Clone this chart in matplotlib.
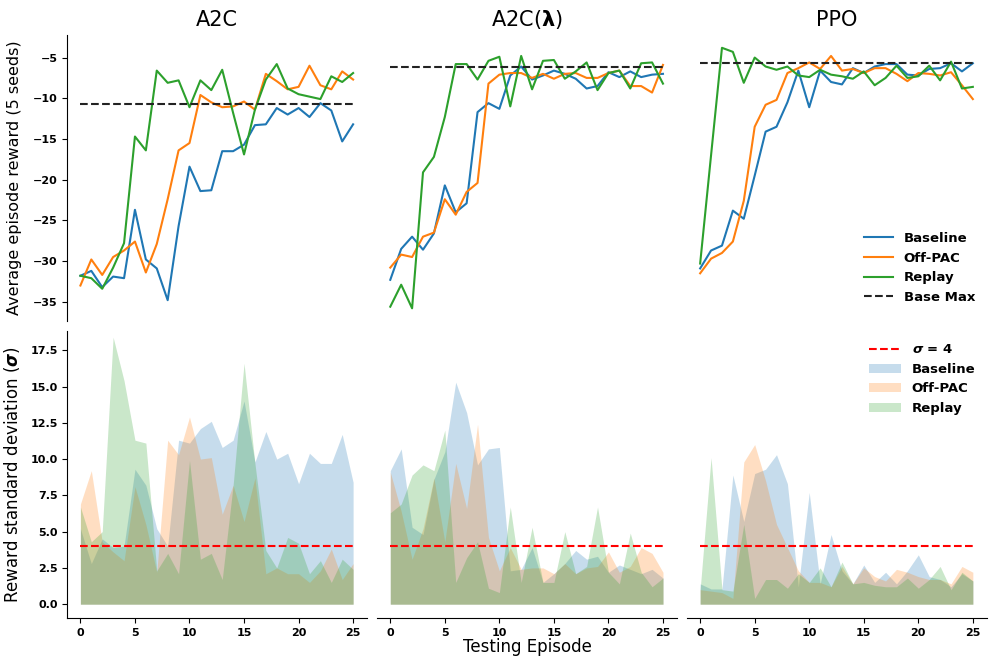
import matplotlib
matplotlib.use('Agg')
import matplotlib.pyplot as plt
import numpy as np

plt.rcParams['mathtext.fontset'] = 'custom'
plt.rcParams['mathtext.it'] = 'DejaVu Sans:italic:bold'
plt.rcParams['mathtext.bf'] = 'DejaVu Sans:bold'
plt.rcParams['mathtext.rm'] = 'DejaVu Sans'

episodes = np.arange(26)
algos = ['A2C', r'A2C($\mathbf{\lambda}$)', 'PPO']
methods = ['Baseline', 'Off-PAC', 'Replay']
colors = ['tab:blue', 'tab:orange', 'tab:green']

# average reward (5 seeds)
a2c_baseline = [-31.8, -31.2, -33.2, -31.9, -32.1, -23.7, -29.8, -30.9, -34.8, -25.7, -18.4, -21.4, -21.3,
                -16.5, -16.5, -15.7, -13.3, -13.2, -11.2, -12.0, -11.2, -12.3, -10.6, -11.5, -15.3, -13.2]
a2c_offpac = [-33.0, -29.8, -31.7, -29.5, -28.7, -27.6, -31.4, -27.9, -22.4, -16.4, -15.5, -9.6, -10.5,
              -11.1, -11.0, -10.4, -11.4, -7.0, -7.9, -8.9, -8.6, -6.0, -8.4, -8.9, -6.7, -7.7]
a2c_replay = [-31.8, -32.1, -33.4, -30.8, -27.8, -14.7, -16.4, -6.6, -8.1, -7.8, -11.1, -7.8, -9.0,
              -6.5, -11.8, -16.9, -11.4, -7.7, -5.8, -8.8, -9.5, -9.8, -10.1, -7.3, -8.0, -6.9]
lam_baseline = [-32.3, -28.5, -27.0, -28.6, -26.6, -20.7, -24.0, -22.9, -11.7, -10.6, -11.3, -7.2, -6.1,
                -7.7, -7.2, -6.6, -7.0, -7.6, -8.8, -8.5, -6.8, -7.4, -6.7, -7.4, -7.1, -7.0]
lam_offpac = [-30.8, -29.2, -29.5, -27.0, -26.5, -22.4, -24.3, -21.5, -20.4, -8.2, -7.1, -6.9, -6.9,
              -7.5, -7.0, -7.6, -7.0, -6.9, -7.5, -7.5, -6.9, -6.6, -8.5, -8.5, -9.3, -5.9]
lam_replay = [-35.6, -32.9, -35.8, -19.1, -17.2, -12.3, -5.8, -5.8, -7.7, -5.4, -4.9, -11.0, -4.8,
              -8.9, -5.4, -5.3, -7.6, -6.7, -5.6, -9.0, -6.9, -6.6, -8.8, -5.7, -5.6, -8.2]
ppo_baseline = [-30.9, -28.7, -28.1, -23.8, -24.8, -19.5, -14.1, -13.5, -10.5, -6.6, -11.1, -6.6, -8.0,
                -8.3, -6.3, -6.9, -6.1, -5.8, -5.8, -7.1, -7.2, -6.4, -6.3, -5.7, -6.7, -5.7]
ppo_offpac = [-31.5, -29.7, -29.0, -27.6, -22.6, -13.5, -10.8, -10.2, -6.9, -6.3, -5.6, -6.4, -4.8,
              -6.6, -6.4, -6.9, -6.3, -6.3, -7.0, -7.9, -6.9, -7.0, -7.2, -6.8, -8.4, -10.1]
ppo_replay = [-30.3, -17.0, -3.8, -4.3, -8.1, -5.0, -6.1, -6.5, -6.1, -7.2, -7.4, -6.5, -7.1,
              -7.3, -7.6, -6.7, -8.4, -7.5, -6.0, -7.5, -7.3, -6.0, -7.8, -5.5, -8.8, -8.6]
base_max = [-10.7, -6.1, -5.7]

# reward standard deviation
a2c_baseline_std = [5.2, 2.8, 4.5, 3.9, 4.0, 9.3, 8.2, 5.2, 4.0, 11.3, 11.1, 12.1, 12.6,
                    10.8, 11.3, 14.0, 9.8, 11.9, 10.0, 10.4, 8.3, 10.4, 9.7, 9.7, 11.7, 8.4]
a2c_offpac_std = [6.9, 9.2, 4.3, 3.6, 3.0, 8.1, 5.5, 2.2, 11.3, 10.3, 12.9, 10.0, 10.1,
                  6.2, 8.2, 5.7, 8.7, 2.1, 2.5, 2.1, 2.1, 1.5, 2.3, 3.8, 1.7, 2.8]
a2c_replay_std = [6.7, 4.3, 5.0, 18.4, 15.4, 11.3, 11.1, 2.3, 3.5, 2.1, 9.9, 3.1, 3.5,
                  1.7, 8.2, 16.6, 9.7, 3.7, 2.5, 4.6, 4.2, 2.1, 3.0, 1.5, 3.1, 2.4]
lam_baseline_std = [9.2, 10.7, 5.3, 4.8, 8.6, 10.5, 15.3, 13.2, 9.6, 10.7, 10.8, 2.3, 2.4,
                    3.9, 1.5, 2.1, 2.8, 3.7, 3.1, 3.3, 2.2, 2.7, 2.4, 2.1, 2.4, 1.8]
lam_offpac_std = [9.1, 6.4, 3.1, 5.2, 8.7, 4.3, 9.7, 6.6, 12.4, 4.6, 2.3, 3.9, 2.4,
                  2.5, 2.5, 2.1, 2.8, 2.1, 2.5, 2.6, 3.6, 2.2, 2.6, 3.9, 3.5, 2.2]
lam_replay_std = [6.3, 6.9, 8.9, 9.6, 9.2, 12.0, 1.5, 3.2, 4.3, 1.1, 0.8, 6.7, 1.5,
                  5.3, 1.5, 1.5, 5.0, 2.1, 2.6, 6.7, 2.2, 1.4, 4.9, 2.2, 1.2, 1.8]
ppo_baseline_std = [1.4, 1.05, 1.05, 8.9, 5.7, 9.0, 9.3, 10.3, 8.3, 1.2, 7.7, 1.4, 4.8,
                    2.3, 1.4, 2.7, 1.5, 2.2, 1.4, 2.3, 3.4, 1.9, 1.7, 1.2, 2.1, 1.6]
ppo_offpac_std = [1.0, 0.9, 0.8, 0.4, 9.8, 11.0, 8.5, 5.5, 3.9, 2.3, 1.5, 1.5, 1.2,
                  2.6, 1.4, 2.5, 1.9, 1.6, 2.4, 2.2, 1.9, 1.7, 1.7, 1.4, 2.6, 2.2]
ppo_replay_std = [1.0, 10.1, 1.0, 0.9, 5.5, 0.4, 1.7, 1.7, 1.1, 2.1, 1.5, 2.5, 1.2,
                  2.9, 1.4, 1.5, 1.3, 1.2, 1.2, 1.8, 1.1, 1.7, 2.6, 1.0, 2.2, 1.6]
sigma_thresh = 4

means = [[a2c_baseline, a2c_offpac, a2c_replay],
         [lam_baseline, lam_offpac, lam_replay],
         [ppo_baseline, ppo_offpac, ppo_replay]]
stds = [[a2c_baseline_std, a2c_offpac_std, a2c_replay_std],
        [lam_baseline_std, lam_offpac_std, lam_replay_std],
        [ppo_baseline_std, ppo_offpac_std, ppo_replay_std]]

fig, axes = plt.subplots(2, 3, figsize=(9.9, 6.56), dpi=100, sharey='row')
fig.subplots_adjust(left=0.068, right=0.997, top=0.947, bottom=0.058, wspace=0.033, hspace=0.035)

for j in range(3):
    top = axes[0, j]
    bot = axes[1, j]
    for k in range(3):
        top.plot(episodes, means[j][k], color=colors[k], lw=1.5, label=methods[k])
    top.hlines(base_max[j], 0, 25, colors='#222222', linestyles='--', lw=1.5, label='Base Max')
    bot.hlines(sigma_thresh, 0, 25, colors='red', linestyles='--', lw=1.5, label=r'$\sigma$ = 4')
    for k in range(3):
        bot.fill_between(episodes, 0, stds[j][k], color=colors[k], alpha=0.25, lw=0, label=methods[k])
    top.set_title(algos[j], fontsize=15)

    for ax in (top, bot):
        ax.spines['top'].set_visible(False)
        ax.spines['right'].set_visible(False)
        ax.set_xlim(-1.2, 26.3)
        ax.tick_params(labelsize=8)
        if j > 0:
            ax.spines['left'].set_visible(False)
            ax.tick_params(axis='y', left=False, labelleft=False)
    top.spines['bottom'].set_visible(False)
    top.tick_params(axis='x', bottom=False, labelbottom=False)
    bot.set_xticks([0, 5, 10, 15, 20, 25])

axes[0, 0].set_ylim(-37.4, -2.2)
axes[1, 0].set_ylim(-0.95, 18.8)
axes[0, 0].set_yticks([-35, -30, -25, -20, -15, -10, -5])
axes[1, 0].set_yticks(np.arange(0, 17.6, 2.5))
for ax in axes.flat:
    for lab in ax.get_xticklabels() + ax.get_yticklabels():
        lab.set_fontweight('bold')

axes[0, 0].set_ylabel('Average episode reward (5 seeds)', fontsize=11.5, labelpad=8)
axes[1, 0].set_ylabel(r'Reward standard deviation ($\sigma$)', fontsize=12, labelpad=6)
axes[1, 1].set_xlabel('Testing Episode', fontsize=12, labelpad=0)

axes[0, 2].legend(loc='lower right', frameon=False, prop={'weight': 'bold', 'size': 9.5},
                  handlelength=2.2, bbox_to_anchor=(1.0, 0.02))
axes[1, 2].legend(loc='upper right', frameon=False, prop={'weight': 'bold', 'size': 9.5},
                  handlelength=2.4, bbox_to_anchor=(1.0, 1.0))

fig.savefig('out.png', dpi=100)
